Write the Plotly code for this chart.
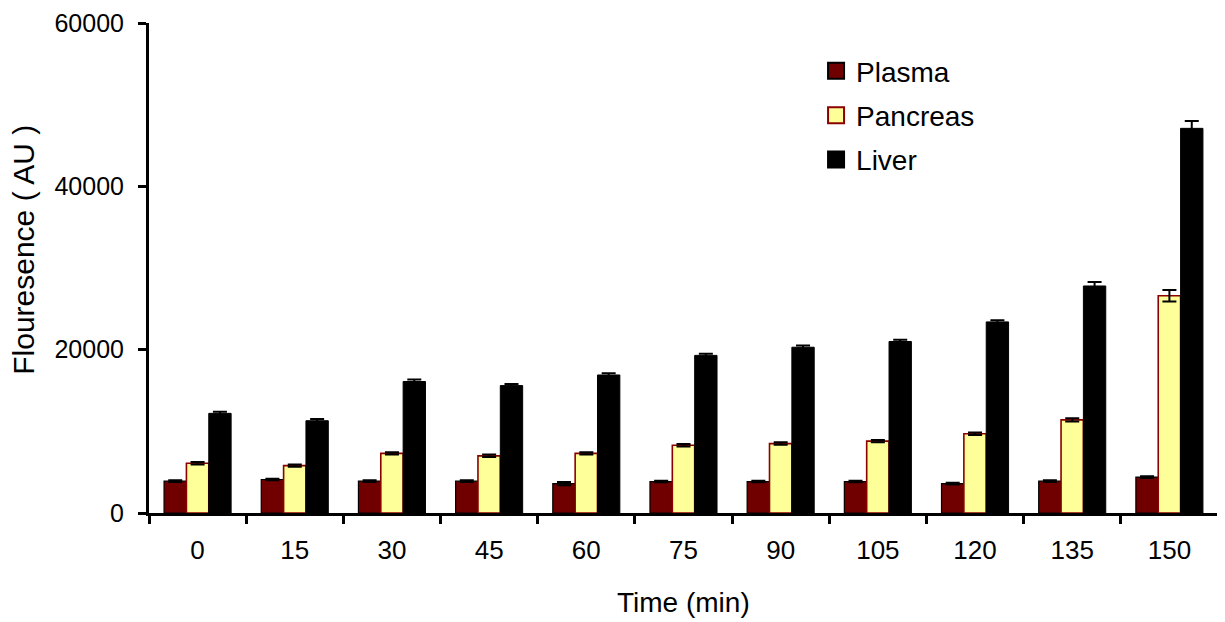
import plotly.graph_objects as go

times = ["0", "15", "30", "45", "60", "75", "90", "105", "120", "135", "150"]
plasma = [3900, 4100, 3900, 3900, 3600, 3850, 3850, 3850, 3600, 3900, 4400]
plasma_err = [100, 100, 100, 100, 200, 100, 100, 100, 100, 100, 100]
pancreas = [6100, 5800, 7300, 7000, 7300, 8300, 8500, 8800, 9700, 11400, 26600]
pancreas_err = [150, 150, 150, 150, 150, 150, 150, 150, 150, 200, 700]
liver = [12200, 11300, 16100, 15600, 16900, 19300, 20300, 21000, 23400, 27800, 47100]
liver_err = [200, 200, 250, 200, 200, 200, 200, 200, 200, 500, 900]

series = [
    ("Plasma", plasma, plasma_err, "#700000", "#000000", 1.2),
    ("Pancreas", pancreas, pancreas_err, "#ffff99", "#8b0000", 1.6),
    ("Liver", liver, liver_err, "#000000", "#000000", 1.0),
]

font = "Liberation Sans, Arial, sans-serif"

fig = go.Figure()
for name, vals, errs, fill, edge, lw in series:
    fig.add_trace(go.Bar(
        name=name, x=times, y=vals, showlegend=False, legendgroup=name,
        marker=dict(color=fill, line=dict(color=edge, width=lw)),
        error_y=dict(type="data", array=errs, visible=True, color="#000000",
                     thickness=2, width=7),
    ))
# legend entries (square swatches like the reference)
for name, vals, errs, fill, edge, lw in series:
    fig.add_trace(go.Scatter(
        name=name, x=[None], y=[None], mode="markers", legendgroup=name,
        marker=dict(symbol="square", size=16, color=fill,
                    line=dict(color=edge, width=2)),
    ))

fig.update_layout(
    width=1225, height=622,
    margin=dict(l=141, r=15, t=15, b=117, autoexpand=False),
    paper_bgcolor="white", plot_bgcolor="white",
    barmode="group", bargap=0.31, bargroupgap=0,
    font=dict(family=font, color="#000000", size=25),
    showlegend=True,
    legend=dict(
        x=0.624, y=0.953, xanchor="left", yanchor="top",
        font=dict(family=font, size=28, color="#000000"),
        bgcolor="rgba(0,0,0,0)", traceorder="grouped", tracegroupgap=5,
        itemwidth=30,
    ),
    xaxis=dict(
        automargin=False,
        showline=True, linecolor="#000000", linewidth=3,
        ticks="outside", ticklen=8, tickwidth=3, tickcolor="#000000",
        tickson="boundaries", showgrid=False,
        tickfont=dict(size=26), ticklabelstandoff=12,
    ),
    yaxis=dict(
        automargin=False,
        range=[0, 60000], tickvals=[0, 20000, 40000, 60000],
        ticktext=["0", "20000", "40000", "60000"],
        showline=True, linecolor="#000000", linewidth=3,
        ticks="outside", ticklen=8, tickwidth=3, tickcolor="#000000",
        showgrid=False, zeroline=False,
        tickfont=dict(size=25), ticklabelstandoff=9,
    ),
    annotations=[
        dict(text="Time (min)", xref="paper", yref="paper", x=0.5, y=-0.182,
             xanchor="center", yanchor="middle", showarrow=False,
             font=dict(family=font, size=28, color="#000000")),
        dict(text="Flouresence ( AU )", xref="paper", yref="paper", x=-0.117, y=0.537,
             xanchor="center", yanchor="middle", textangle=-90, showarrow=False,
             font=dict(family=font, size=30, color="#000000")),
    ],
)

fig.write_html("out.html")
